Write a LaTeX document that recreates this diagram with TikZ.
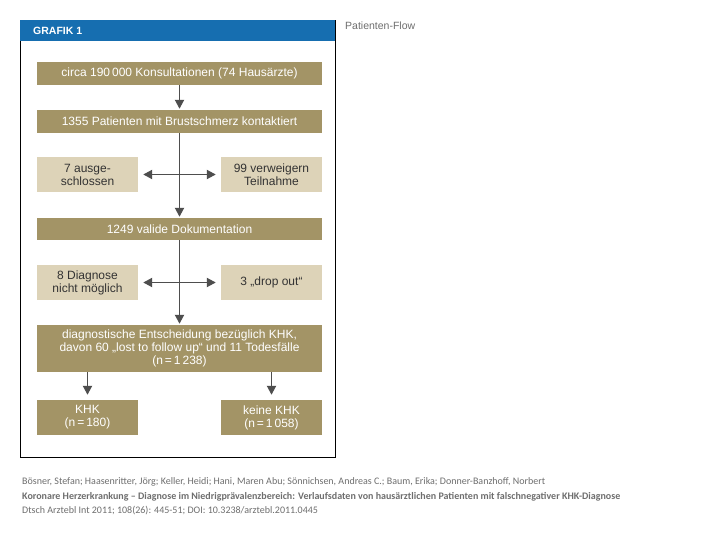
\documentclass[tikz,border=0pt]{standalone}
\usepackage{fontspec}
\setmainfont{Liberation Sans}
\newfontfamily\citefont{Carlito}
\usetikzlibrary{arrows.meta}
\definecolor{olive}{RGB}{163,148,102}
\definecolor{sand}{RGB}{221,211,184}
\definecolor{kopf}{RGB}{22,110,176}
\definecolor{pfeil}{RGB}{78,78,78}
\definecolor{grautext}{RGB}{110,110,110}
\begin{document}
\begin{tikzpicture}[x=1pt,y=-1pt,
  dunkel/.style={fill=olive, text=white, minimum width=285pt, align=center, inner sep=0pt, font=\fontsize{12}{13}\selectfont},
  hell/.style={fill=sand, text=black!80, minimum width=101pt, minimum height=35pt, align=center, inner sep=0pt, font=\fontsize{12}{13}\selectfont},
  pf/.style={-{Triangle[width=9pt,length=9pt]}, line width=1.9pt, draw=pfeil},
  dpf/.style={pf, {Triangle[width=9pt,length=9pt]}-{Triangle[width=9pt,length=9pt]}, shorten >=5pt, shorten <=5pt},
  zit/.style={anchor=base west, inner sep=0pt, text=grautext, font=\citefont\fontsize{10}{12}\selectfont}]
\useasboundingbox (0,0) rectangle (720,540);
\fill[white] (0,0) rectangle (720,540);
\draw[line width=0.8pt] (20,20) rectangle (335,457);
\fill[kopf] (20.4,20.4) rectangle (334.6,41);
\node[anchor=west, text=white, font=\bfseries\fontsize{10.5}{12}\selectfont, inner sep=0pt] (titel) at (33,31) {GRAFIK 1};
\node[anchor=west, text=grautext, font=\fontsize{10.5}{12}\selectfont, inner sep=0pt] (flow) at (345,26) {Patienten-Flow};
\node[dunkel, minimum height=23pt] (b1) at (179.5,73.5) {circa 190\,000 Konsultationen (74 Hausärzte)};
\node[dunkel, minimum height=23pt] (b2) at (179.5,121.5) {1355 Patienten mit Brustschmerz kontaktiert};
\node[hell] (l1) at (87.5,174.5) {7 ausge-\\schlossen};
\node[hell] (r1) at (271.5,174.5) {99 verweigern\\Teilnahme};
\node[dunkel, minimum height=22pt] (b3) at (179.5,229) {1249 valide Dokumentation};
\node[hell] (l2) at (87.5,282.5) {8 Diagnose\\nicht möglich};
\node[hell] (r2) at (271.5,282.5) {3 „drop out“};
\node[dunkel, minimum height=47pt] (b4) at (179.5,348.5) {diagnostische Entscheidung bezüglich KHK,\\davon 60 „lost to follow up“ und 11 Todesfälle\\(n\,=\,1\,238)};
\node[dunkel, minimum width=101pt, minimum height=35pt] (k1) at (87.5,417.5) {KHK\\(n\,=\,180)};
\node[dunkel, minimum width=101pt, minimum height=35pt] (k2) at (271.5,417.5) {keine KHK\\(n\,=\,1\,058)};
\draw[pf, shorten >=1pt] (b1) -- (b2);
\draw[pf, shorten >=1pt] (b2) -- (b3);
\draw[dpf] (l1) -- (r1);
\draw[pf, shorten >=1pt] (b3) -- (b4);
\draw[dpf] (l2) -- (r2);
\draw[pf, shorten >=5pt] (b4.south -| k1.north) -- (k1.north);
\draw[pf, shorten >=5pt] (b4.south -| k2.north) -- (k2.north);
\node[zit] (autoren) at (22,484) {Bösner, Stefan; Haasenritter, Jörg; Keller, Heidi; Hani, Maren Abu; Sönnichsen, Andreas C.; Baum, Erika; Donner-Banzhoff, Norbert};
\node[zit, font=\citefont\bfseries\fontsize{10}{12}\selectfont] (artikel) at (22,499) {Koronare Herzerkrankung – Diagnose im Niedrigprävalenzbereich: Verlaufsdaten von hausärztlichen Patienten mit falschnegativer KHK-Diagnose};
\node[zit] (quelle) at (22,513) {Dtsch Arztebl Int 2011; 108(26): 445-51; DOI: 10.3238/arztebl.2011.0445};
\end{tikzpicture}
\end{document}
